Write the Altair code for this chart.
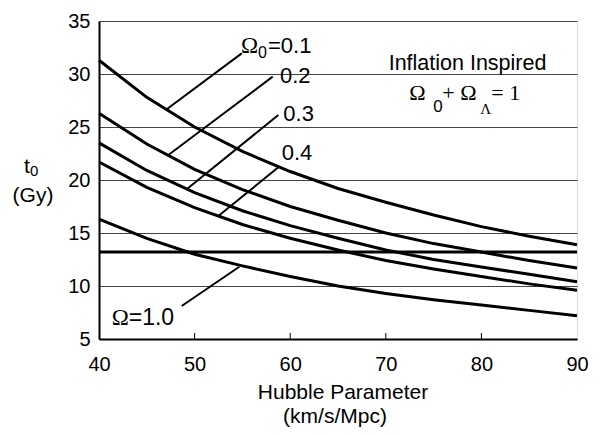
import altair as alt
import pandas as pd

# ---------------- data ----------------
hubble = [40, 45, 50, 55, 60, 65, 70, 75, 80, 85, 90]
age_om01 = [31.3, 27.8, 25.0, 22.7, 20.8, 19.2, 17.9, 16.7, 15.6, 14.7, 13.9]
age_om02 = [26.3, 23.4, 21.0, 19.1, 17.5, 16.2, 15.0, 14.0, 13.2, 12.4, 11.7]
age_om03 = [23.5, 20.9, 18.8, 17.1, 15.7, 14.5, 13.4, 12.5, 11.8, 11.1, 10.4]
age_om04 = [21.7, 19.3, 17.4, 15.8, 14.5, 13.4, 12.4, 11.6, 10.9, 10.2, 9.6]
age_om10 = [16.3, 14.5, 13.0, 11.9, 10.9, 10.0, 9.3, 8.7, 8.2, 7.7, 7.2]
series_names = ["0.1", "0.2", "0.3", "0.4", "1.0"]
universe_age = [13.2]
x_ticks = [40, 50, 60, 70, 80, 90]
inner_ticks = [50, 60, 70, 80]
y_ticks = [5, 10, 15, 20, 25, 30, 35]

# leader lines (x, y on curve -> x2, y2 at label), data units
leaders = pd.DataFrame({
    "x": [47.08, 47.25, 49.17, 52.48, 48.65],
    "y": [26.67, 22.36, 19.12, 16.60, 8.11],
    "x2": [54.93, 58.17, 58.76, 58.76, 54.68],
    "y2": [31.95, 29.75, 26.13, 21.20, 11.82],
})

rows = []
for name, vals in zip(series_names, [age_om01, age_om02, age_om03, age_om04, age_om10]):
    for h, t in zip(hubble, vals):
        rows.append({"h": h, "t": t, "s": name})
df = pd.DataFrame(rows)

W, H = 478, 318
SANS = "Liberation Sans"
SERIF = "Liberation Serif"

xs = alt.Scale(domain=[40, 90], nice=False, zero=False)
ys = alt.Scale(domain=[5, 35], nice=False, zero=False)

curves = alt.Chart(df).mark_line(color="black", strokeWidth=3).encode(
    x=alt.X("h:Q", scale=xs, axis=alt.Axis(
        values=x_ticks, title=None, grid=False, ticks=False, labelFlush=False,
        labelFontSize=20, labelFont=SANS, labelColor="black", labelPadding=15,
        domainColor="black", domainWidth=2)),
    y=alt.Y("t:Q", scale=ys, axis=alt.Axis(
        values=y_ticks, title=None, grid=True, gridColor="#444", gridWidth=1,
        ticks=False, labelFlush=False, labelFontSize=20, labelFont=SANS,
        labelColor="black", labelPadding=9, domainColor="black", domainWidth=2)),
    detail="s:N",
)

age = alt.Chart(pd.DataFrame({"t": universe_age})).mark_rule(
    color="black", strokeWidth=3).encode(y=alt.Y("t:Q", scale=ys))

ticks = alt.Chart(pd.DataFrame({"h": inner_ticks})).mark_rule(
    color="black", strokeWidth=1).encode(
    x=alt.X("h:Q", scale=xs), y=alt.value(H), y2=alt.value(H - 6))

lead = alt.Chart(leaders).mark_rule(color="black", strokeWidth=2).encode(
    x=alt.X("x:Q", scale=xs), y=alt.Y("y:Q", scale=ys),
    x2="x2:Q", y2="y2:Q")


def txt(text, x, y, font=SANS, size=22, dx=0, dy=0, align="left"):
    return alt.Chart(pd.DataFrame({"x": [x], "y": [y], "t": [text]})).mark_text(
        font=font, fontSize=size, align=align, baseline="alphabetic",
        dx=dx, dy=dy, color="black").encode(
        x=alt.X("x:Q", scale=xs), y=alt.Y("y:Q", scale=ys), text="t:N")


def ptxt(text, px, py, font=SANS, size=21, align="left"):
    return alt.Chart(pd.DataFrame({"t": [text]})).mark_text(
        font=font, fontSize=size, align=align, baseline="alphabetic",
        color="black").encode(x=alt.value(px), y=alt.value(py), text="t:N")


labels = [
    txt("Ω", 54.85, 31.98, font=SERIF, size=23),
    txt("0", 54.85, 31.98, size=16, dx=17, dy=5),
    txt("=0.1", 54.85, 31.98, size=22, dx=27),
    txt("0.2", 58.93, 29.12),
    txt("0.3", 59.28, 25.60),
    txt("0.4", 59.11, 21.89),
    txt("Ω", 41.33, 6.32, font=SERIF, size=23),
    txt("=1.0", 41.33, 6.32, size=23, dx=17),
    txt("Inflation Inspired", 78.55, 30.38, size=21.5, align="center"),
    txt("Ω", 72.46, 27.55, font=SERIF, size=22),
    txt("0", 72.46, 27.55, size=17, dx=24, dy=12),
    txt("+ Ω", 72.46, 27.55, font=SERIF, size=22, dx=33),
    txt("Λ", 72.46, 27.55, font=SERIF, size=15, dx=71, dy=14),
    txt("= 1", 72.46, 27.55, font=SERIF, size=22, dx=82),
    ptxt("t", -75, 152, size=21),
    ptxt("0", -69, 155, size=15),
    ptxt("(Gy)", -66, 181, size=21, align="center"),
    ptxt("Hubble Parameter", W / 2 + 5, 378, size=21, align="center"),
    ptxt("(km/s/Mpc)", W / 2 - 3, 402, size=21, align="center"),
]

chart = alt.layer(curves, age, ticks, lead, *labels).properties(
    width=W, height=H,
    autosize=alt.AutoSizeParams(type="none"),
    padding={"left": 91, "top": 13, "right": 15, "bottom": 89},
).configure_view(stroke="black", strokeWidth=1.5).configure(background="white")

chart.save("out.html", embed_options={"renderer": "svg", "actions": False})
